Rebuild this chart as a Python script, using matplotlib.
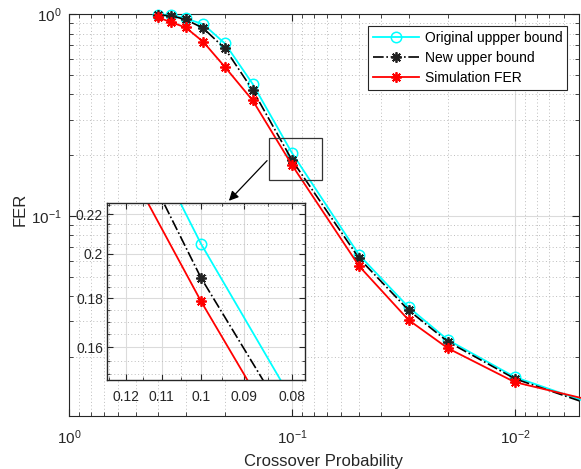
import matplotlib
matplotlib.use('Agg')
import matplotlib.pyplot as plt
import numpy as np
from matplotlib.ticker import LogLocator, FixedLocator, NullFormatter, FuncFormatter
from matplotlib.patches import Rectangle

plt.rcParams['font.family'] = ['Liberation Sans', 'DejaVu Sans']
plt.rcParams['mathtext.default'] = 'regular'

# ---- data ----
crossover = [0.4, 0.35, 0.3, 0.25, 0.2, 0.15, 0.1, 0.05, 0.03, 0.02, 0.01, 0.005]
fer_original = [0.992, 0.99, 0.95, 0.89, 0.715, 0.45, 0.205, 0.064, 0.0353, 0.0243, 0.0159, 0.0122]
fer_new = [0.99, 0.98, 0.94, 0.85, 0.675, 0.42, 0.189, 0.0616, 0.0341, 0.0238, 0.0156, 0.0120]
fer_sim = [0.963, 0.912, 0.858, 0.728, 0.547, 0.373, 0.1787, 0.0564, 0.0305, 0.0221, 0.0150, 0.0125]
labels = ['Original uppper bound', 'New upper bound', 'Simulation FER']
inset_xticks = [0.12, 0.11, 0.1, 0.09, 0.08]
inset_yticks = [0.16, 0.18, 0.2, 0.22]

W, H = 581, 469
fig = plt.figure(figsize=(W / 100, H / 100), dpi=100)
dark = (0.15, 0.15, 0.15)

def px_axes(l, t, r, b):
    return [l / W, (H - b) / H, (r - l) / W, (b - t) / H]

ax = fig.add_axes(px_axes(69, 14, 579, 416))
ax.set_xscale('log')
ax.set_yscale('log')

styles = [
    dict(color='cyan', linestyle='-', marker='o', markerfacecolor='none', markeredgecolor='cyan',
         markersize=7.5, markeredgewidth=1.1, linewidth=1.3),
    dict(color='black', linestyle='-.', marker=(8, 2, 0), markeredgecolor='#222222',
         markersize=7.5, markeredgewidth=1.3, linewidth=1.2),
    dict(color='red', linestyle='-', marker=(8, 2, 0), markeredgecolor='red',
         markersize=7.5, markeredgewidth=1.3, linewidth=1.3),
]
series = [fer_original, fer_new, fer_sim]
n = len(crossover)
for ys, st, lab in zip(series, styles, labels):
    ax.plot(crossover, ys, label=lab, markevery=list(range(n - 1)), clip_on=False, zorder=3, **st)

ax.set_xlim(1, 0.00516)
ax.set_ylim(0.0102, 1)

ax.xaxis.set_major_locator(LogLocator(base=10, numticks=10))
ax.xaxis.set_minor_locator(LogLocator(base=10, subs=np.arange(2, 10), numticks=20))
ax.yaxis.set_major_locator(LogLocator(base=10, numticks=10))
ax.yaxis.set_minor_locator(LogLocator(base=10, subs=np.arange(2, 10), numticks=20))
ax.xaxis.set_minor_formatter(NullFormatter())
ax.yaxis.set_minor_formatter(NullFormatter())

ax.grid(True, which='major', color=(0.86, 0.86, 0.86), linestyle='-', linewidth=0.8)
ax.grid(True, which='minor', color=(0.74, 0.74, 0.74), linestyle=(0, (1, 2.5)), linewidth=0.7)
ax.set_axisbelow(True)

ax.tick_params(which='both', direction='in', top=True, right=True, color=dark, labelcolor=dark)
ax.tick_params(which='major', length=5, width=0.8, labelsize=11)
ax.tick_params(which='minor', length=3, width=0.6)
ax.tick_params(axis='x', which='major', pad=9)
ax.tick_params(axis='y', which='major', pad=5)
for s in ax.spines.values():
    s.set_color(dark)
    s.set_linewidth(0.8)

ax.set_xlabel('Crossover Probability', fontsize=12, color=dark)
ax.set_ylabel('FER', fontsize=12, color=dark)
ax.xaxis.set_label_coords(0.5, -0.095)
ax.yaxis.set_label_coords(-0.082, 0.515)

leg = ax.legend(loc='upper right', bbox_to_anchor=((567 - 69) / 510, (416 - 26) / 402),
                borderaxespad=0, fancybox=False, edgecolor=dark, fontsize=10,
                handlelength=3.3, handletextpad=0.4, labelspacing=0.45, borderpad=0.35,
                framealpha=1)
leg.get_frame().set_linewidth(0.8)

# zoom rectangle on main axes (pixel positions converted to data)
def px_to_data(px, py):
    xd = 10 ** (-(px - 69) / 223.0)
    yd = 10 ** (-(py - 14) / 201.0)
    return xd, yd

x0, y0 = px_to_data(269, 179)
x1, y1 = px_to_data(322.3, 137.3)
rect = Rectangle((x0, y0), x1 - x0, y1 - y0, fill=False, edgecolor='#333333', linewidth=0.9, zorder=4)
ax.add_patch(rect)

ax_s = px_to_data(269, 158)
ax_e = px_to_data(227, 202)
ax.annotate('', xy=ax_e, xytext=ax_s,
            arrowprops=dict(arrowstyle='-|>', color='black', lw=0.9, mutation_scale=14), zorder=6)

# ---- inset ----
axi = fig.add_axes(px_axes(107.3, 203.3, 305, 380))
axi.set_xscale('log')
axi.set_yscale('log')
for ys, st in zip(series, styles):
    axi.plot(crossover, ys, **st)
axi.set_xlim(0.1256, 0.0776)
axi.set_ylim(0.148, 0.2257)
axi.xaxis.set_major_locator(FixedLocator(inset_xticks))
axi.yaxis.set_major_locator(FixedLocator(inset_yticks))
axi.xaxis.set_minor_locator(FixedLocator([0.125, 0.115, 0.105, 0.095, 0.085]))
axi.yaxis.set_minor_locator(FixedLocator([0.15, 0.155, 0.165, 0.17, 0.175, 0.185, 0.19, 0.195,
                                           0.205, 0.21, 0.215, 0.225]))
fmt = FuncFormatter(lambda v, p: ('%g' % v))
axi.xaxis.set_major_formatter(fmt)
axi.yaxis.set_major_formatter(fmt)
axi.xaxis.set_minor_formatter(NullFormatter())
axi.yaxis.set_minor_formatter(NullFormatter())
axi.grid(True, which='major', color=(0.86, 0.86, 0.86), linestyle='-', linewidth=0.8)
axi.grid(True, which='minor', color=(0.74, 0.74, 0.74), linestyle=(0, (1, 2.5)), linewidth=0.7)
axi.set_axisbelow(True)
axi.tick_params(which='both', direction='in', top=True, right=True, color=dark, labelcolor=dark)
axi.tick_params(which='major', length=4, width=0.8, labelsize=10)
axi.tick_params(which='minor', length=2.5, width=0.6)
axi.tick_params(axis='x', which='major', pad=7)
axi.tick_params(axis='y', which='major', pad=3)
for s in axi.spines.values():
    s.set_color(dark)
    s.set_linewidth(1.0)
axi.set_facecolor('white')

fig.savefig('out.png', dpi=100)
